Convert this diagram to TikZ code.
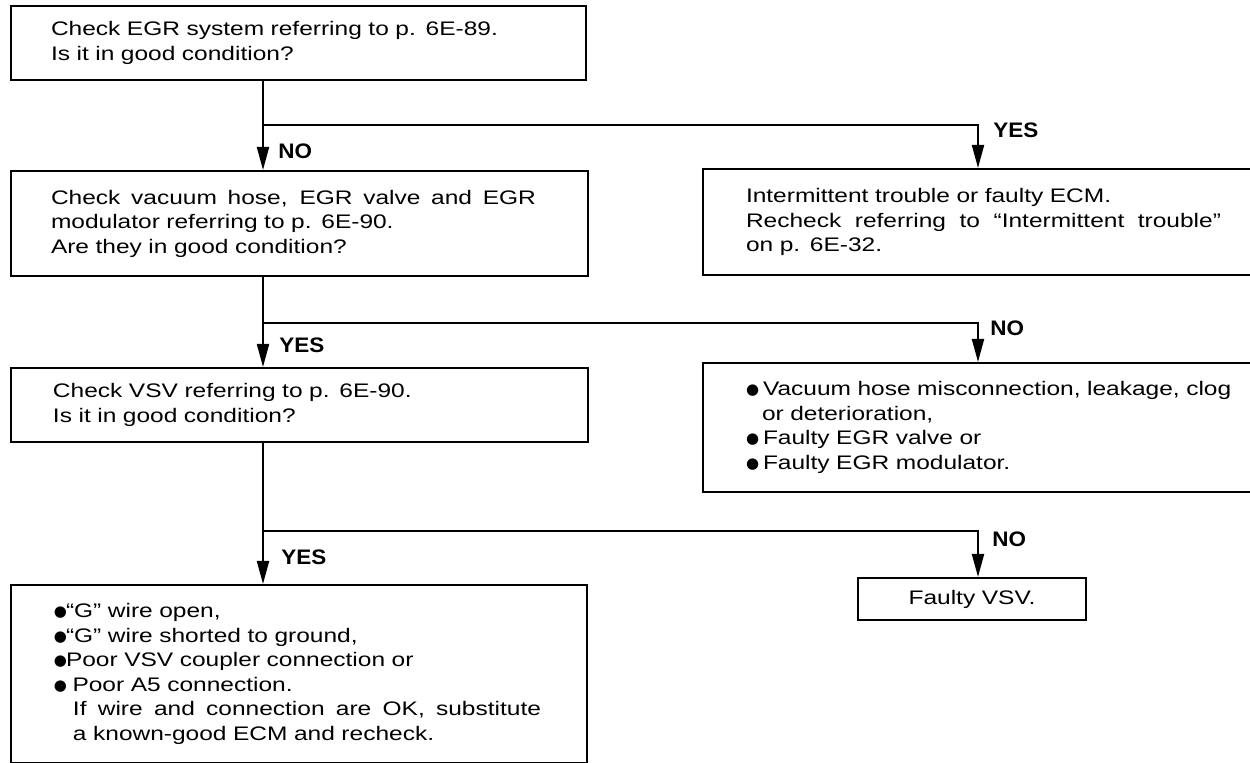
\documentclass[tikz,border=0pt]{standalone}
\usepackage{fontspec}
\setmainfont{Liberation Sans}[FakeStretch=1.25]
\newfontfamily\labfont{Liberation Sans}[FakeStretch=1.07]
\newfontfamily\bulfont{DejaVu Sans}
\usetikzlibrary{arrows.meta}
\newcommand\blt[1][6pt]{\makebox[#1][l]{\raisebox{0.6pt}{\bulfont\fontsize{7.5}{9}\selectfont ●}}}
\newcommand\spreadline[2]{\makebox[#1][s]{\spaceskip=0.3em plus 1fil\relax #2}}
\tikzset{
  box/.style={draw, line width=1pt, rectangle, anchor=north west, align=left,
    inner ysep=0pt, font=\fontsize{9.8}{12.25}\selectfont},
  arr/.style={line width=1pt, -{Triangle[length=11.5pt,width=6pt]}},
  ln/.style={line width=1pt},
  lab/.style={font=\labfont\bfseries\fontsize{10.5}{12}\selectfont, anchor=west, inner sep=0pt}
}
\begin{document}
\begin{tikzpicture}[x=0.5pt,y=-0.5pt]
\useasboundingbox (0,0) rectangle (1250,763);
\fill[white] (0,0) rectangle (1250,763);

% left column
\node[box, minimum width=287.5pt, minimum height=37pt, inner xsep=20pt, text width=247.5pt] (b1) at (10,5)
  {Check EGR system referring to p. 6E-89.\\Is it in good condition?};
\node[box, minimum width=288.5pt, minimum height=52.5pt, inner xsep=20pt, text width=248.5pt] (b2) at (10,170)
  {\spreadline{242.5pt}{Check vacuum hose, EGR valve and EGR}\\modulator referring to p. 6E-90.\\Are they in good condition?};
\node[box, minimum width=288.5pt, minimum height=37pt, inner xsep=21pt, text width=246.5pt] (b3) at (10,367)
  {Check VSV referring to p. 6E-90.\\Is it in good condition?};
\node[box, minimum width=288pt, minimum height=89pt, inner xsep=21.5pt, text width=245pt] (b5) at (10,584)
  {\blt“G” wire open,\\
   \blt“G” wire shorted to ground,\\
   \blt Poor VSV coupler connection or\\
   \blt\ Poor A5 connection.\\
   \hspace*{9.5pt}\spreadline{234pt}{If wire and connection are OK, substitute}\\
   \hspace*{9.5pt}a known-good ECM and recheck.};

% right column
\node[box, minimum width=300pt, minimum height=53pt, inner xsep=21.5pt, text width=257pt] (b4) at (702,168)
  {Intermittent trouble or faulty ECM.\\\spreadline{237.5pt}{Recheck referring to “Intermittent trouble”}\\on p. 6E-32.};
\node[box, minimum width=300pt, minimum height=64.5pt, inner xsep=21.5pt, text width=257pt] (b6) at (702,362)
  {\blt[8.5pt]Vacuum hose misconnection, leakage, clog\\
   \hspace*{8pt}or deterioration,\\
   \blt[8.5pt]Faulty EGR valve or\\
   \blt[8.5pt]Faulty EGR modulator.};
\node[box, align=center, minimum width=114pt, minimum height=21pt, inner xsep=0pt, text width=114pt] (b7) at (857,577)
  {Faulty VSV.};

% connectors
\coordinate (xL) at (263,0);
\coordinate (xR) at (978,0);
\coordinate (j1) at (263,125);
\coordinate (j2) at (263,323);
\coordinate (j3) at (263,531);

\draw[ln] (b1.south -| xL) -- (j1);
\draw[arr] (j1) -- (b2.north -| xL);
\draw[arr] (j1) -| (b4.north -| xR);

\draw[ln] (b2.south -| xL) -- (j2);
\draw[arr] (j2) -- (b3.north -| xL);
\draw[arr] (j2) -| (b6.north -| xR);

\draw[ln] (b3.south -| xL) -- (j3);
\draw[arr] (j3) -- (b5.north -| xL);
\draw[arr] (j3) -| (b7.north -| xR);

% labels
\node[lab] (l1) at (278,151) {NO};
\node[lab] (l2) at (993,130) {YES};
\node[lab] (l3) at (279,345) {YES};
\node[lab] (l4) at (990,328) {NO};
\node[lab] (l5) at (281,557) {YES};
\node[lab] (l6) at (992,539) {NO};
\end{tikzpicture}
\end{document}
